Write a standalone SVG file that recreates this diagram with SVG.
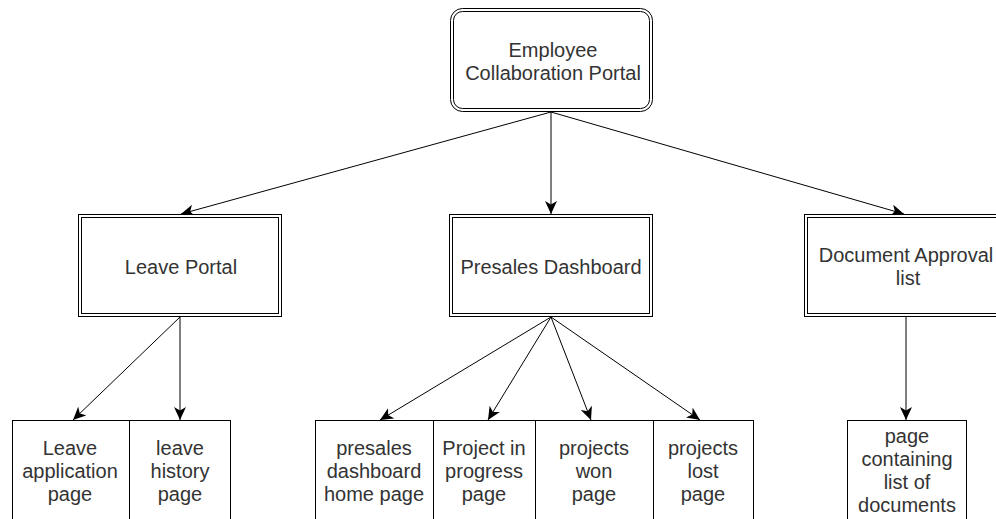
<svg xmlns="http://www.w3.org/2000/svg" width="996" height="519" viewBox="0 0 996 519">
<defs>
<marker id="ah" markerWidth="14" markerHeight="12" refX="13" refY="6" orient="auto" markerUnits="userSpaceOnUse">
<path d="M0,0 L13,6 L0,12 L3.5,6 Z" fill="#000"/>
</marker>
<style>
.b{fill:#fff;stroke:#000;stroke-width:1}
.i{fill:none;stroke:#000;stroke-width:1}
.t{font-family:"Liberation Sans",Arial,sans-serif;font-size:20px;fill:#333;text-anchor:middle}
.e{fill:none;stroke:#000;stroke-width:1;marker-end:url(#ah)}
</style>
</defs>
<rect width="996" height="519" fill="#fff"/>
<g id="edges">
<line class="e" x1="551" y1="112" x2="181" y2="214"/>
<line class="e" x1="551" y1="112" x2="551" y2="214"/>
<line class="e" x1="551" y1="112" x2="904" y2="214"/>
<line class="e" x1="180" y1="317" x2="73" y2="420"/>
<line class="e" x1="180" y1="317" x2="180" y2="420"/>
<line class="e" x1="551" y1="317" x2="380" y2="420"/>
<line class="e" x1="551" y1="317" x2="488" y2="420"/>
<line class="e" x1="551" y1="317" x2="591" y2="420"/>
<line class="e" x1="551" y1="317" x2="700" y2="420"/>
<line class="e" x1="906" y1="317" x2="906" y2="420"/>
</g>
<g id="portal">
<rect class="b" x="450.5" y="8.5" width="202" height="103" rx="12"/>
<rect class="i" x="453.5" y="11.5" width="196" height="97" rx="9"/>
<text class="t" x="553" y="57">Employee</text>
<text class="t" x="553" y="80">Collaboration Portal</text>
</g>
<g id="leave">
<rect class="b" x="78.5" y="214.5" width="203" height="102"/>
<rect class="i" x="81.5" y="217.5" width="197" height="96"/>
<text class="t" x="181" y="274">Leave Portal</text>
</g>
<g id="presales">
<rect class="b" x="449.5" y="214.5" width="203" height="102"/>
<rect class="i" x="452.5" y="217.5" width="197" height="96"/>
<text class="t" x="551" y="274">Presales Dashboard</text>
</g>
<g id="docapproval">
<rect class="b" x="804.5" y="214.5" width="207" height="102"/>
<rect class="i" x="807.5" y="217.5" width="201" height="96"/>
<text class="t" x="906" y="262">Document Approval</text>
<text class="t" x="908" y="285">list</text>
</g>
<g id="leaveapp">
<rect class="b" x="12.5" y="420.5" width="117" height="110"/>
<text class="t" x="70" y="455">Leave</text>
<text class="t" x="70" y="478">application</text>
<text class="t" x="70" y="501">page</text>
</g>
<g id="leavehist">
<rect class="b" x="129.5" y="420.5" width="101" height="110"/>
<text class="t" x="180" y="455">leave</text>
<text class="t" x="180" y="478">history</text>
<text class="t" x="180" y="501">page</text>
</g>
<g id="presaleshome">
<rect class="b" x="315.5" y="420.5" width="118" height="110"/>
<text class="t" x="374" y="455">presales</text>
<text class="t" x="374" y="478">dashboard</text>
<text class="t" x="374" y="501">home page</text>
</g>
<g id="inprogress">
<rect class="b" x="433.5" y="420.5" width="102" height="110"/>
<text class="t" x="484" y="455">Project in</text>
<text class="t" x="484" y="478">progress</text>
<text class="t" x="484" y="501">page</text>
</g>
<g id="won">
<rect class="b" x="535.5" y="420.5" width="118" height="110"/>
<text class="t" x="594" y="455">projects</text>
<text class="t" x="594" y="478">won</text>
<text class="t" x="594" y="501">page</text>
</g>
<g id="lost">
<rect class="b" x="653.5" y="420.5" width="100" height="110"/>
<text class="t" x="703" y="455">projects</text>
<text class="t" x="703" y="478">lost</text>
<text class="t" x="703" y="501">page</text>
</g>
<g id="doclist">
<rect class="b" x="847.5" y="420.5" width="119" height="110"/>
<text class="t" x="907" y="443">page</text>
<text class="t" x="907" y="466">containing</text>
<text class="t" x="907" y="489">list of</text>
<text class="t" x="907" y="512">documents</text>
</g>
</svg>
